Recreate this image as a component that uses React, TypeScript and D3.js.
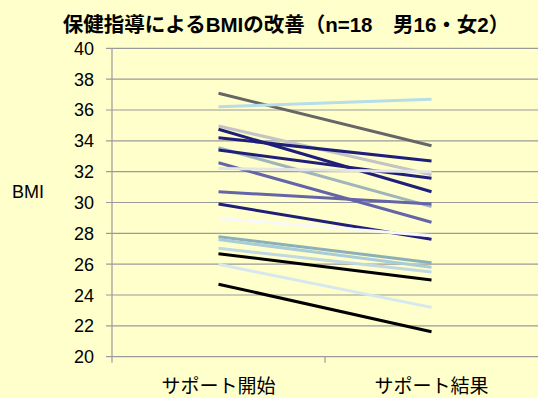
import React from "react";
import * as d3 from "d3";

const categories = ["サポート開始", "サポート結果"];
const startBMI = [37.08, 36.21, 34.96, 34.75, 34.2, 33.55, 33.4, 32.58, 32.2, 30.7, 29.9, 28.97, 27.78, 27.6, 27.03, 26.68, 25.99, 24.7];
const endBMI = [33.68, 36.69, 31.8, 30.7, 32.69, 29.73, 31.57, 28.72, 32.0, 29.9, 27.61, 27.85, 26.1, 25.8, 25.5, 24.97, 23.2, 21.62];
const yTicks = [20, 22, 24, 26, 28, 30, 32, 34, 36, 38, 40];
const title = "保健指導によるBMIの改善（n=18　男16・女2）";
const yLabel = "BMI";

const palette = [
  "#666666", "#B7DDE8", "#C4C4C4", "#1F1F7A", "#1F1F7A", "#A0B4BC",
  "#1F1F7A", "#6464A8", "#E4E4E4", "#6464A8", "#1F1F7A", "#F8F8F8",
  "#8CB0B8", "#A8CDD6", "#C0D8E0", "#000000", "#D4E8EE", "#000000",
];

const W = 538;
const H = 398;
const plotLeft = 112;
const plotRight = 538;
const plotTop = 48.3;
const plotBottom = 356.7;

export default function App() {
  const x = d3.scaleBand<string>().domain(categories).range([plotLeft, plotRight]).padding(0);
  const y = d3.scaleLinear().domain([20, 40]).range([plotBottom, plotTop]);
  const cx = (c: string) => (x(c) as number) + x.bandwidth() / 2;
  const line = d3
    .line<[string, number]>()
    .x((d) => cx(d[0]))
    .y((d) => y(d[1]));
  const series = startBMI.map((s, i) => [
    [categories[0], s],
    [categories[1], endBMI[i]],
  ] as [string, number][]);
  const numFont = "'Liberation Sans', Arial, sans-serif";
  const jpFont = "'Liberation Sans', Arial, 'Noto Sans CJK JP', sans-serif";
  return (
    <svg
      width={W}
      height={H}
      style={{ position: "absolute", left: 0, top: 0, display: "block" }}
    >
      <rect x={0} y={0} width={W} height={H} fill="#FFFFCC" />
      <text
        x={286}
        y={32}
        textAnchor="middle"
        fontFamily={jpFont}
        fontWeight="bold"
        fontSize={20.5}
        fill="#000"
      >
        {title}
      </text>
      {yTicks.map((t) => (
        <g key={t}>
          <line x1={106} x2={plotRight} y1={y(t)} y2={y(t)} stroke="#9A9A9A" strokeWidth={1.2} />
          <text
            x={94}
            y={y(t)}
            dy="0.36em"
            textAnchor="end"
            fontFamily={numFont}
            fontSize={18}
            fill="#000"
          >
            {t}
          </text>
        </g>
      ))}
      <line x1={plotLeft} x2={plotLeft} y1={plotTop} y2={plotBottom + 6} stroke="#9A9A9A" strokeWidth={1.2} />
      {categories.slice(1).map((c) => (
        <line key={c} x1={x(c) as number} x2={x(c) as number} y1={plotBottom} y2={plotBottom + 6} stroke="#9A9A9A" strokeWidth={1.2} />
      ))}
      <text x={12} y={198} fontFamily={numFont} fontSize={18} fill="#000">
        {yLabel}
      </text>
      {categories.map((c) => (
        <text
          key={c}
          x={cx(c)}
          y={393}
          textAnchor="middle"
          fontFamily="'Noto Sans CJK JP', sans-serif"
          fontSize={19}
          fill="#000"
        >
          {c}
        </text>
      ))}
      {series.map((s, i) => (
        <path key={i} d={line(s) as string} fill="none" stroke={palette[i]} strokeWidth={3} />
      ))}
    </svg>
  );
}
